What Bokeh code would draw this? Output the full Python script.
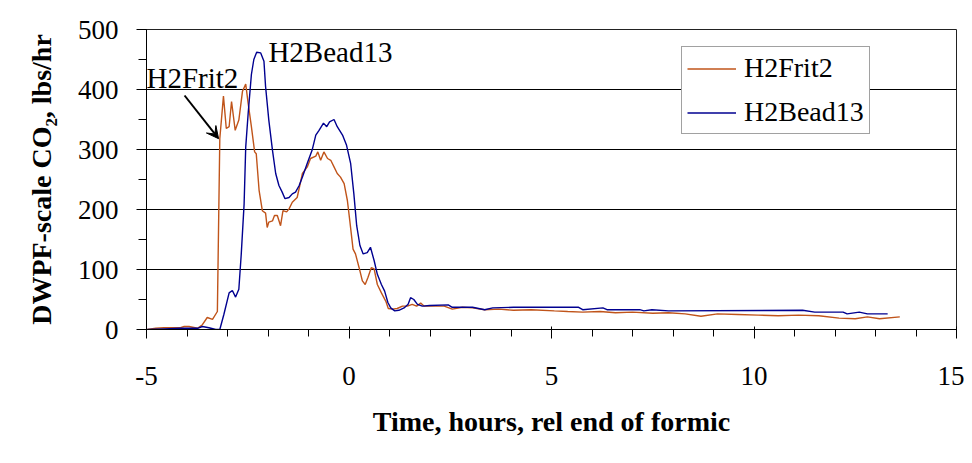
from bokeh.plotting import figure
from bokeh.embed import file_html
from bokeh.resources import INLINE
from bokeh.models import SingleIntervalTicker, Legend, LegendItem, Arrow, VeeHead, Range1d
from bokeh.core.properties import value

# ---- data ----
frit_x = [-4.98, -4.77, -4.57, -4.32, -4.16, -4.07, -3.95, -3.74, -3.62, -3.50, -3.37, -3.25,
          -3.19, -3.10, -3.03, -2.96, -2.90, -2.81, -2.72, -2.63, -2.55, -2.49, -2.41, -2.33,
          -2.29, -2.22, -2.14, -2.06, -2.02, -1.98, -1.89, -1.84, -1.77, -1.69, -1.63, -1.54,
          -1.48, -1.40, -1.28, -1.15, -1.03, -0.95, -0.82, -0.77, -0.70, -0.62, -0.53, -0.45,
          -0.37, -0.29, -0.21, -0.12, -0.04, 0.02, 0.10, 0.16, 0.25, 0.33, 0.40, 0.47, 0.55,
          0.62, 0.70, 0.80, 0.91, 0.97, 1.07, 1.19, 1.32, 1.44, 1.56, 1.67, 1.77, 1.85, 1.99,
          2.35, 2.55, 2.80, 3.05, 3.35, 3.70, 4.06, 4.50, 5.07, 5.40, 5.77, 6.20, 6.58, 7.00,
          7.50, 7.89, 8.30, 8.69, 9.10, 9.60, 10.10, 10.60, 11.10, 11.60, 12.10, 12.50, 12.80,
          13.10, 13.60]
frit_y = [0, 2, 3, 3, 3, 5, 5, 2, 8, 20, 17, 30,
          318, 389, 335, 338, 380, 332, 349, 397, 409, 377, 338, 296,
          293, 232, 198, 194, 170, 179, 181, 190, 190, 173, 198, 196,
          201, 212, 220, 260, 271, 285, 289, 296, 282, 296, 285, 282,
          271, 260, 254, 243, 215, 181, 134, 126, 103, 81, 75, 87, 103,
          101, 75, 61, 47, 35, 34, 35, 39, 39, 42, 39, 44, 39, 39,
          39, 34, 37, 36, 33, 34, 32, 33, 31, 30, 29, 30, 28, 29,
          27, 28, 26, 22, 26, 25, 24, 23, 24, 23, 19, 18, 21,
          18, 21]

bead_x = [-4.98, -4.57, -4.16, -3.74, -3.62, -3.46, -3.29, -3.19, -3.09, -2.96, -2.88, -2.80,
          -2.72, -2.66, -2.59, -2.55, -2.49, -2.41, -2.35, -2.28, -2.18, -2.10, -2.06, -1.98,
          -1.89, -1.81, -1.73, -1.65, -1.58, -1.48, -1.40, -1.32, -1.23, -1.15, -1.03, -0.91,
          -0.82, -0.74, -0.63, -0.55, -0.48, -0.37, -0.29, -0.16, -0.06, 0.04, 0.12, 0.19,
          0.27, 0.35, 0.45, 0.53, 0.62, 0.70, 0.80, 0.88, 0.96, 1.03, 1.13, 1.23, 1.36, 1.46,
          1.52, 1.60, 1.69, 1.81, 1.99, 2.45, 2.55, 3.05, 3.35, 3.55, 4.06, 5.67, 5.77, 6.27,
          6.37, 7.18, 7.28, 7.48, 7.89, 11.20, 11.50, 12.20, 12.30, 12.60, 12.80, 13.30]
bead_y = [0, 1, 2, 2, 5, 3, 0, 0, 25, 61, 65, 54,
          67, 126, 209, 304, 360, 425, 450, 462, 461, 447, 405, 349,
          299, 260, 240, 229, 218, 220, 226, 229, 240, 254, 277, 299,
          324, 332, 344, 338, 346, 350, 338, 324, 307, 277, 226, 173,
          140, 126, 128, 137, 115, 92, 75, 64, 45, 36, 31, 32, 36, 42,
          53, 50, 42, 39, 40, 41, 37, 37, 33, 36, 37, 37, 33, 36,
          33, 33, 31, 33, 31, 32, 29, 29, 26, 29, 26, 26]

series_names = ["H2Frit2", "H2Bead13"]
series_colors = ["#C0541A", "#000090"]

x_ticks_interval = 5
y_ticks_interval = 100
x_tick_overrides = {-5: "-5"}

FONT = "Liberation Serif"

p = figure(width=964, height=455, output_backend="svg", toolbar_location=None,
           x_range=Range1d(-5, 15), y_range=Range1d(0, 500),
           frame_width=810, frame_height=300,
           min_border_left=146, min_border_right=8, min_border_top=29, min_border_bottom=126)
p.background_fill_color = "white"
p.border_fill_color = "white"
p.outline_line_color = "#222222"
p.outline_line_width = 1

r1 = p.line(frit_x, frit_y, line_color=series_colors[0], line_width=1.4)
r2 = p.line(bead_x, bead_y, line_color=series_colors[1], line_width=1.4)

# axes
p.xaxis.ticker = SingleIntervalTicker(interval=x_ticks_interval, num_minor_ticks=5)
p.yaxis.ticker = SingleIntervalTicker(interval=y_ticks_interval, num_minor_ticks=2)
p.xaxis.major_label_overrides = x_tick_overrides
p.xgrid.grid_line_color = None
p.ygrid.grid_line_color = "black"
p.ygrid.grid_line_width = 1

for ax in (p.xaxis[0], p.yaxis[0]):
    ax.axis_line_color = "black"
    ax.major_tick_line_color = "black"
    ax.minor_tick_line_color = "black"
    ax.major_label_text_font = FONT
    ax.major_label_text_font_size = "27px"
    ax.major_label_text_color = "black"
    ax.axis_label_text_font = FONT
    ax.axis_label_text_font_size = "28px"
    ax.axis_label_text_font_style = "bold"
    ax.axis_label_text_color = "black"

p.xaxis.major_tick_in = 3
p.xaxis.major_tick_out = 9
p.xaxis.minor_tick_in = 0
p.xaxis.minor_tick_out = 7
p.xaxis.major_label_standoff = 28
p.xaxis.axis_label_standoff = 18
p.xaxis.axis_label = "Time, hours, rel end of formic"

p.yaxis.major_tick_in = 0
p.yaxis.major_tick_out = 10
p.yaxis.minor_tick_in = 0
p.yaxis.minor_tick_out = 8
p.yaxis.major_label_standoff = 18
p.yaxis.axis_label_standoff = 18
p.yaxis.axis_label = "DWPF-scale CO\u2082, lbs/hr"

# legend
legend = Legend(items=[LegendItem(label=series_names[0], renderers=[r1]),
                       LegendItem(label=series_names[1], renderers=[r2])],
                location=(535, 195))
legend.label_text_font = FONT
legend.label_text_font_size = "28px"
legend.label_text_color = "black"
legend.glyph_width = 49
legend.glyph_height = 29
legend.label_height = 29
legend.label_standoff = 8
legend.padding = 5
legend.spacing = 12
legend.margin = 0
legend.border_line_color = "#444444"
legend.border_line_width = 1
legend.background_fill_color = "white"
legend.background_fill_alpha = 1.0
p.add_layout(legend, "center")

# annotations
ann_text = ["H2Frit2", "H2Bead13"]
ann_x = [-5.0, -1.99]
ann_y = [419, 462]
p.text(x=ann_x, y=ann_y, text=ann_text, text_font=value(FONT), text_font_size="29px",
       text_color="black", text_baseline="alphabetic", text_align="left")
p.add_layout(Arrow(x_start=-4.06, y_start=390, x_end=-3.22, y_end=318,
                   line_color="black", line_width=2,
                   end=VeeHead(size=12, fill_color="black", line_color="black")))

open("out.html", "w").write(file_html(p, INLINE))
